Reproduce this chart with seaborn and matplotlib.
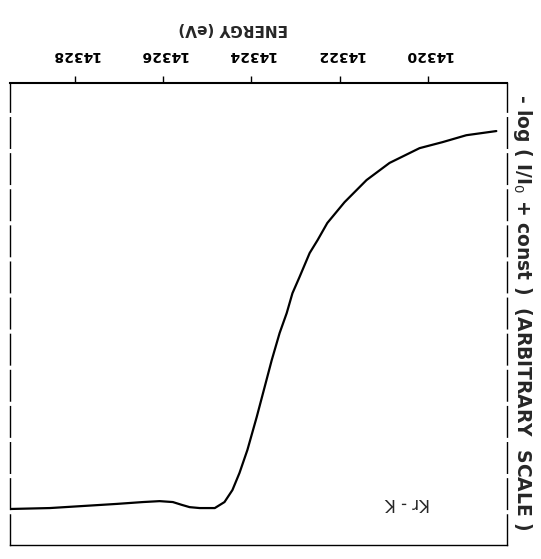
import numpy as np
import pandas as pd
import seaborn as sns
import matplotlib
matplotlib.use('Agg')
import matplotlib.pyplot as plt

energy = [14329.47, 14328.57, 14327.05, 14326.46, 14326.08, 14325.78, 14325.58,
          14325.40, 14325.17, 14324.83, 14324.61, 14324.43, 14324.27, 14324.09,
          14323.88, 14323.70, 14323.54, 14323.36, 14323.20, 14323.07, 14322.91,
          14322.68, 14322.50, 14322.28, 14321.89, 14321.39, 14320.87, 14320.19,
          14319.67, 14319.13, 14318.45]
absorb = [9.22, 9.20, 9.11, 9.07, 9.05, 9.07, 9.13,
          9.18, 9.20, 9.20, 9.07, 8.81, 8.44, 7.94,
          7.23, 6.58, 6.00, 5.41, 4.98, 4.55, 4.20,
          3.68, 3.40, 3.03, 2.58, 2.10, 1.73, 1.41,
          1.28, 1.13, 1.04]
tick_vals = [14320, 14322, 14324, 14326, 14328]

df = pd.DataFrame({'energy': energy, 'absorb': absorb})

sns.set_style('white')
fig = plt.figure(figsize=(5.41, 5.59), dpi=100)
ax = fig.add_axes([0.0185, 0.025, 0.9185, 0.8265])

sns.lineplot(data=df, x='energy', y='absorb', color='black', linewidth=1.6, ax=ax)

# figure is shown rotated by 180 degrees
ax.set_xlim(14329.47, 14318.21)
ax.set_ylim(10, 0)
ax.xaxis.tick_top()
ax.xaxis.set_label_position('top')
ax.set_xticks(tick_vals)
ax.set_xticklabels([str(v) for v in tick_vals], rotation=180,
                   fontsize=10, fontweight='bold')
ax.tick_params(axis='x', direction='out', length=5, width=1, pad=10, colors='black')
ax.set_yticks([])
ax.set_xlabel('ENERGY (eV)', rotation=180, fontsize=11, fontweight='bold')
ax.xaxis.set_label_coords(0.449, 1.108)
ax.set_ylabel('')

for side in ['left', 'right', 'top', 'bottom']:
    ax.spines[side].set_visible(True)
    ax.spines[side].set_color('black')
    ax.spines[side].set_linewidth(1)
ax.spines['top'].set_linewidth(1.5)
ax.spines['left'].set_linestyle((0, (22, 4)))
ax.spines['right'].set_linestyle((0, (22, 4)))

ax.text(0.80, 0.09, 'Kr - K', transform=ax.transAxes, rotation=180,
        fontsize=12, ha='center', va='center')

fig.text(0.965, 0.442, '- log ( I/I$_0$ + const )  (ARBITRARY  SCALE )',
         rotation=270, fontsize=13.5, fontweight='bold', ha='center', va='center')

fig.savefig('out.png', dpi=100, facecolor='white')
